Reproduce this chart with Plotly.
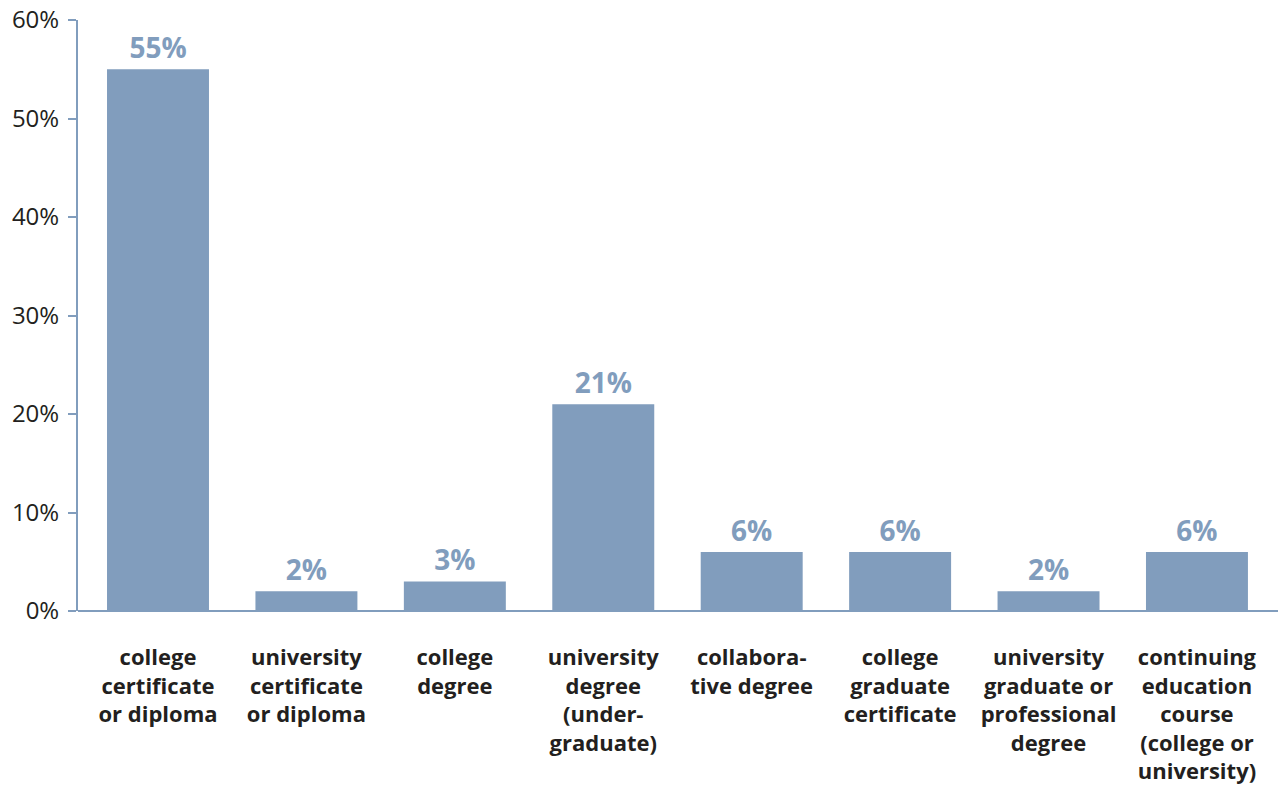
import plotly.graph_objects as go

# Share of respondents by credential type
categories = [
    "college<br>certificate<br>or diploma",
    "university<br>certificate<br>or diploma",
    "college<br>degree",
    "university<br>degree<br>(under-<br>graduate)",
    "collabora-<br>tive degree",
    "college<br>graduate<br>certificate",
    "university<br>graduate or<br>professional<br>degree",
    "continuing<br>education<br>course<br>(college or<br>university)",
]
shares = [55, 2, 3, 21, 6, 6, 2, 6]
y_ticks = [0, 10, 20, 30, 40, 50, 60]
y_tick_labels = [f"{v}%" for v in y_ticks]

BLUE = "#819dbd"
TEXT = "#231f20"
FONT = "Open Sans"

x_pos = list(range(len(categories)))

fig = go.Figure(
    go.Bar(
        x=x_pos,
        y=shares,
        width=0.687,
        marker=dict(color=BLUE, line=dict(width=0)),
        text=[f"{v}%" for v in shares],
        textposition="outside",
        textfont=dict(family=FONT, size=28, color=BLUE, weight="bold"),
        cliponaxis=False,
    )
)

fig.update_layout(
    width=1280,
    height=789,
    margin=dict(l=78, r=2, t=20, b=178),
    plot_bgcolor="white",
    paper_bgcolor="white",
    showlegend=False,
    font=dict(family=FONT, color=TEXT),
)

fig.update_xaxes(
    range=[-0.539, 7.546],
    tickmode="array",
    tickvals=x_pos,
    ticktext=categories,
    tickfont=dict(family=FONT, size=22, color=TEXT, weight="bold"),
    ticks="",
    showline=False,
    showgrid=False,
    zeroline=False,
    ticklabelstandoff=31,
)

fig.update_yaxes(
    range=[0, 60],
    tickmode="array",
    tickvals=y_ticks,
    ticktext=y_tick_labels,
    tickfont=dict(family=FONT, size=24, color=TEXT),
    ticks="outside",
    ticklen=8,
    tickwidth=2,
    tickcolor=BLUE,
    showline=True,
    linecolor=BLUE,
    linewidth=2,
    showgrid=False,
    zeroline=True,
    zerolinecolor=BLUE,
    zerolinewidth=2,
    ticklabelstandoff=4,
)

fig.write_html("out.html")
